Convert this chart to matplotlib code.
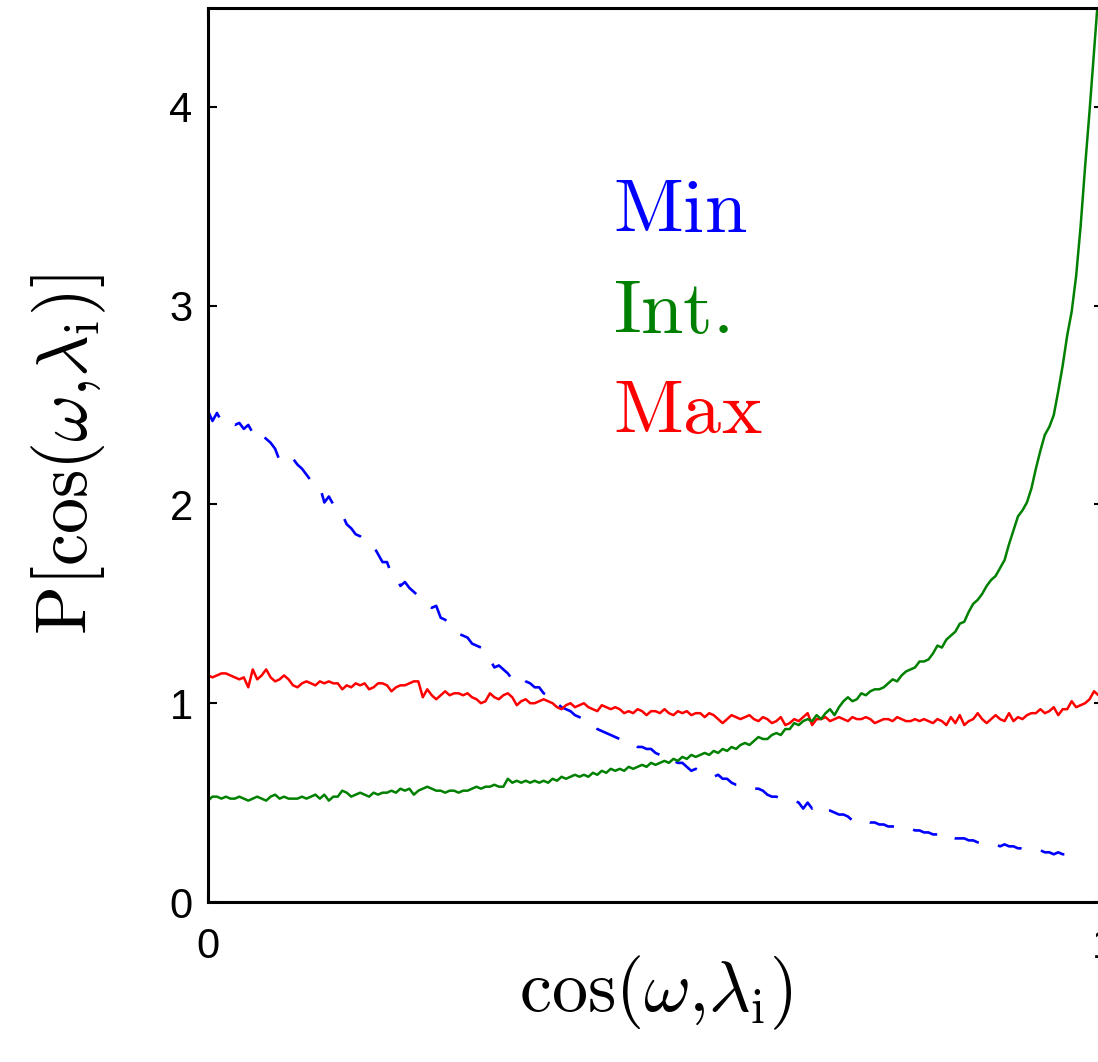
import numpy as np
import matplotlib
matplotlib.use('Agg')
import matplotlib.pyplot as plt

plt.rcParams['mathtext.fontset'] = 'cm'
plt.rcParams['font.family'] = ['Liberation Sans', 'DejaVu Sans']

# 分布の推定値 (ビン幅 0.005)
step = 0.005

p_max = [1.14, 1.13, 1.14, 1.15, 1.15, 1.14, 1.13, 1.12, 1.13, 1.08,
         1.17, 1.12, 1.14, 1.17, 1.13, 1.11, 1.12, 1.14, 1.12, 1.09,
         1.08, 1.10, 1.11, 1.10, 1.09, 1.11, 1.10, 1.11, 1.10, 1.10,
         1.07, 1.09, 1.08, 1.10, 1.09, 1.10, 1.07, 1.08, 1.10, 1.10,
         1.09, 1.06, 1.08, 1.09, 1.09, 1.10, 1.11, 1.11, 1.03, 1.07,
         1.04, 1.02, 1.04, 1.06, 1.04, 1.05, 1.05, 1.04, 1.05, 1.03,
         1.02, 1.00, 1.01, 1.05, 1.03, 1.02, 1.04, 1.05, 1.03, 0.99,
         1.01, 1.02, 1.00, 1.00, 1.01, 1.02, 1.01, 1.00, 0.98, 0.97,
         0.99, 1.00, 0.98, 0.99, 1.00, 0.98, 0.97, 0.96, 0.99, 0.98,
         0.97, 0.98, 0.97, 0.95, 0.96, 0.95, 0.97, 0.96, 0.94, 0.96,
         0.96, 0.95, 0.97, 0.95, 0.94, 0.96, 0.95, 0.96, 0.94, 0.95,
         0.95, 0.93, 0.95, 0.94, 0.92, 0.90, 0.92, 0.94, 0.93, 0.92,
         0.93, 0.94, 0.92, 0.91, 0.93, 0.92, 0.90, 0.91, 0.93, 0.89,
         0.90, 0.92, 0.91, 0.93, 0.95, 0.89, 0.92, 0.92, 0.93, 0.91,
         0.92, 0.93, 0.92, 0.91, 0.93, 0.92, 0.92, 0.93, 0.92, 0.90,
         0.91, 0.92, 0.92, 0.91, 0.93, 0.92, 0.91, 0.91, 0.92, 0.91,
         0.92, 0.91, 0.90, 0.92, 0.91, 0.89, 0.93, 0.90, 0.94, 0.89,
         0.91, 0.92, 0.95, 0.92, 0.90, 0.92, 0.94, 0.92, 0.91, 0.95,
         0.91, 0.93, 0.92, 0.94, 0.95, 0.95, 0.97, 0.95, 0.96, 0.98,
         0.94, 0.97, 0.97, 1.01, 0.98, 0.99, 1.00, 1.02, 1.06, 1.04,
         1.03]

p_int = [0.51, 0.53, 0.53, 0.52, 0.53, 0.52, 0.52, 0.53, 0.52, 0.51,
         0.52, 0.53, 0.52, 0.51, 0.53, 0.54, 0.52, 0.53, 0.52, 0.52,
         0.52, 0.53, 0.52, 0.53, 0.54, 0.52, 0.54, 0.51, 0.53, 0.53,
         0.56, 0.55, 0.53, 0.54, 0.55, 0.54, 0.53, 0.55, 0.54, 0.55,
         0.55, 0.56, 0.55, 0.57, 0.56, 0.57, 0.54, 0.56, 0.57, 0.58,
         0.57, 0.56, 0.56, 0.55, 0.56, 0.56, 0.55, 0.56, 0.56, 0.57,
         0.58, 0.57, 0.58, 0.58, 0.59, 0.58, 0.58, 0.62, 0.60, 0.61,
         0.60, 0.61, 0.60, 0.61, 0.60, 0.61, 0.60, 0.62, 0.61, 0.63,
         0.62, 0.63, 0.64, 0.63, 0.64, 0.63, 0.65, 0.64, 0.66, 0.65,
         0.67, 0.66, 0.67, 0.66, 0.68, 0.67, 0.68, 0.69, 0.68, 0.70,
         0.69, 0.70, 0.71, 0.70, 0.72, 0.71, 0.73, 0.72, 0.74, 0.73,
         0.74, 0.75, 0.74, 0.76, 0.75, 0.77, 0.76, 0.78, 0.77, 0.79,
         0.80, 0.79, 0.81, 0.83, 0.82, 0.82, 0.84, 0.85, 0.84, 0.87,
         0.87, 0.90, 0.89, 0.91, 0.92, 0.91, 0.94, 0.92, 0.95, 0.97,
         0.94, 0.98, 1.01, 1.03, 1.01, 1.02, 1.05, 1.04, 1.06, 1.07,
         1.07, 1.08, 1.10, 1.12, 1.11, 1.14, 1.16, 1.17, 1.18, 1.21,
         1.21, 1.22, 1.25, 1.29, 1.28, 1.32, 1.34, 1.36, 1.40, 1.41,
         1.46, 1.50, 1.52, 1.55, 1.59, 1.62, 1.64, 1.68, 1.72, 1.80,
         1.87, 1.94, 1.97, 2.01, 2.08, 2.18, 2.27, 2.35, 2.39, 2.45,
         2.57, 2.70, 2.85, 2.97, 3.15, 3.40, 3.70, 3.98, 4.28, 4.58,
         4.90]

p_min = [2.47, 2.42, 2.46, 2.42, 2.43, 2.41, 2.40, 2.41, 2.38, 2.40,
         2.36, 2.38, 2.35, 2.33, 2.31, 2.28, 2.22, 2.24, 2.23, 2.23,
         2.20, 2.18, 2.15, 2.12, 2.10, 2.09, 2.01, 2.04, 2.00, 1.97,
         1.95, 1.90, 1.88, 1.85, 1.84, 1.82, 1.80, 1.79, 1.75, 1.71,
         1.71, 1.65, 1.64, 1.59, 1.61, 1.58, 1.56, 1.54, 1.52, 1.50,
         1.48, 1.49, 1.43, 1.42, 1.40, 1.38, 1.35, 1.34, 1.33, 1.30,
         1.29, 1.28, 1.25, 1.22, 1.18, 1.19, 1.17, 1.15, 1.12, 1.14,
         1.13, 1.11, 1.10, 1.08, 1.08, 1.05, 1.04, 1.00, 1.00, 0.98,
         0.97, 0.96, 0.94, 0.93, 0.92, 0.91, 0.90, 0.87, 0.86, 0.85,
         0.84, 0.83, 0.82, 0.81, 0.80, 0.80, 0.78, 0.78, 0.77, 0.77,
         0.75, 0.74, 0.72, 0.70, 0.71, 0.70, 0.70, 0.68, 0.66, 0.67,
         0.66, 0.65, 0.64, 0.63, 0.64, 0.62, 0.62, 0.60, 0.59, 0.59,
         0.58, 0.58, 0.57, 0.57, 0.56, 0.54, 0.53, 0.53, 0.52, 0.52,
         0.51, 0.51, 0.50, 0.47, 0.50, 0.47, 0.49, 0.47, 0.46, 0.46,
         0.45, 0.44, 0.44, 0.43, 0.41, 0.42, 0.41, 0.41, 0.40, 0.40,
         0.39, 0.39, 0.38, 0.38, 0.38, 0.37, 0.37, 0.37, 0.36, 0.36,
         0.35, 0.35, 0.34, 0.34, 0.32, 0.33, 0.33, 0.32, 0.32, 0.32,
         0.31, 0.31, 0.30, 0.30, 0.29, 0.29, 0.29, 0.28, 0.29, 0.28,
         0.28, 0.27, 0.27, 0.26, 0.26, 0.26, 0.26, 0.25, 0.25, 0.24,
         0.25, 0.24, 0.24, 0.24, 0.24, 0.24]

x_max = np.arange(len(p_max)) * step
x_int = np.arange(len(p_int)) * step
x_min = np.arange(len(p_min)) * step

fig = plt.figure(figsize=(10.98, 10.62), dpi=100)
ax = fig.add_axes([208 / 1098, 160 / 1062, 895 / 1098, 894.5 / 1062])

ax.plot(x_min, p_min, color='#0000ff', lw=1.9, dashes=(9.5, 7.5))
ax.plot(x_max, p_max, color='#ff0000', lw=1.8)
ax.plot(x_int, p_int, color='#008000', lw=1.8)

ax.text(0.453, 3.37, r'$\mathrm{Min}$', color='#0000ff', fontsize=55, va='baseline')
ax.text(0.453, 2.86, r'$\mathrm{Int.}$', color='#008000', fontsize=55, va='baseline')
ax.text(0.453, 2.36, r'$\mathrm{Max}$', color='#ff0000', fontsize=55, va='baseline')

ax.set_xlim(0, 1)
ax.set_ylim(0, 4.5)
ax.set_xticks([0, 1])
ax.set_xticklabels(['0', '1'])
ax.set_yticks([0, 1, 2, 3, 4])
ax.tick_params(direction='in', length=6.5, width=1.5, labelsize=30,
               top=True, right=True)
ax.tick_params(axis='x', pad=18)
ax.tick_params(axis='y', pad=11)
for s in ax.spines.values():
    s.set_linewidth(2.2)

ax.set_xlabel(r'$\mathrm{cos(\omega{,}\lambda_{i})}$', fontsize=52)
ax.set_ylabel(r'$\mathrm{P[cos(\omega{,}\lambda_{i})]}$', fontsize=52)
ax.xaxis.set_label_coords(0.5, -0.058)
ax.yaxis.set_label_coords(-0.112, 0.5)

fig.savefig('out.png', dpi=100)
